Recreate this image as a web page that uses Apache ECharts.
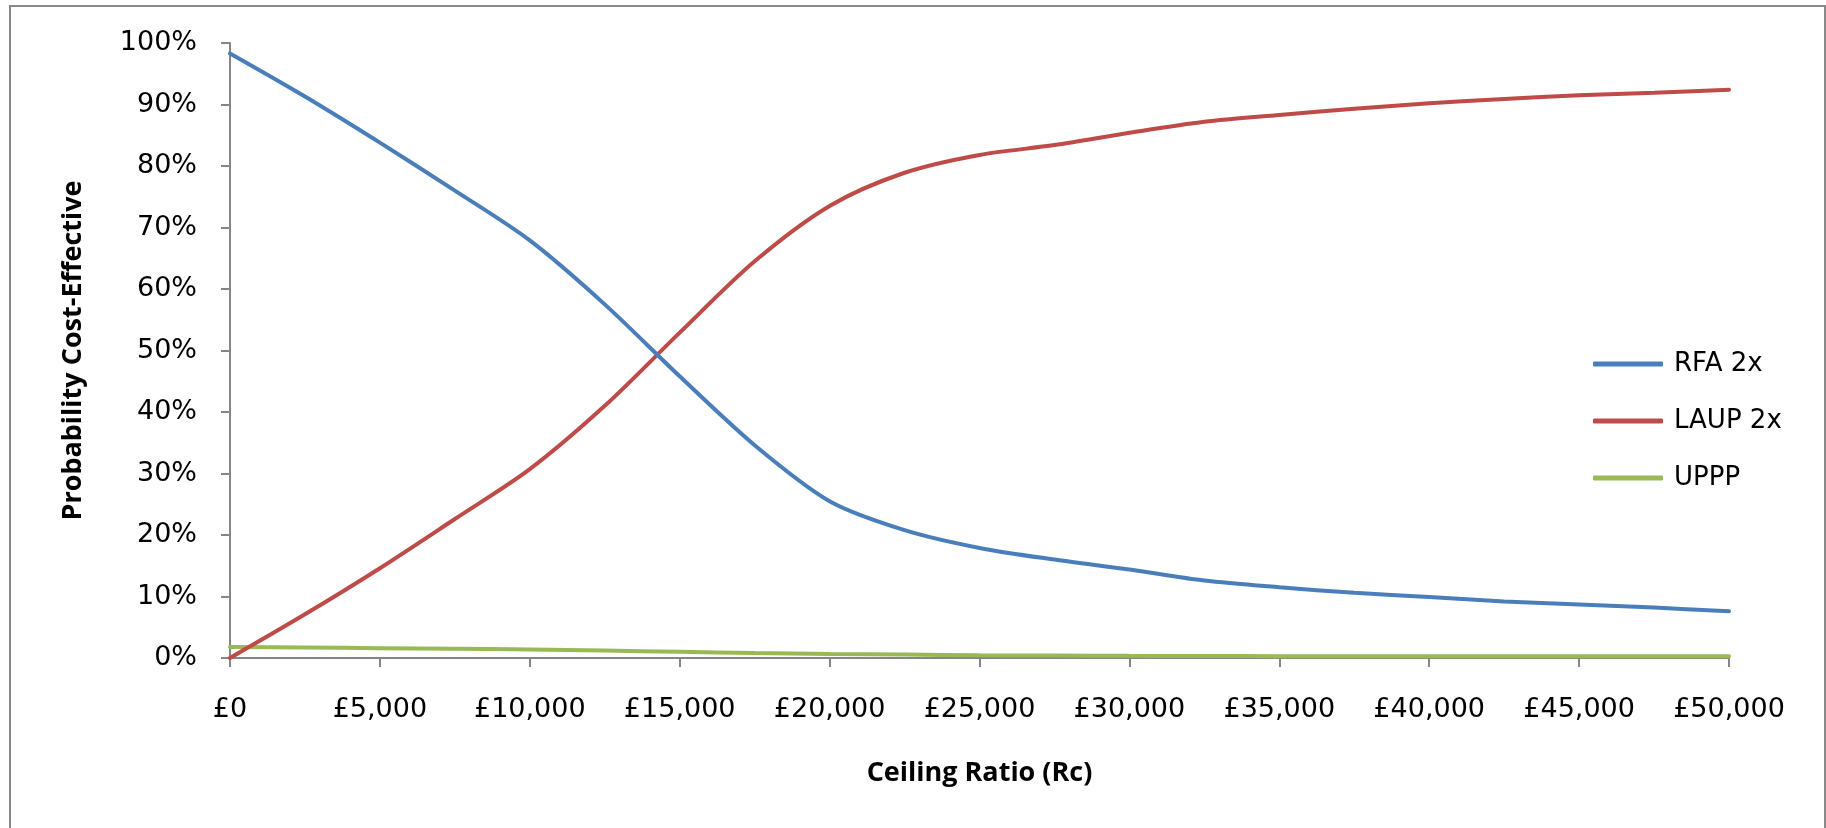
<!DOCTYPE html>
<html>
<head>
<meta charset="utf-8">
<script src="https://cdn.jsdelivr.net/npm/echarts@6/dist/echarts.min.js"></script>
<style>
  html, body { margin: 0; padding: 0; background: #ffffff; }
  #chart { width: 1826px; height: 828px; }
</style>
</head>
<body>
<div id="chart"></div>
<script>
// Ceiling ratio (£) at which each probability was evaluated
const ceilingRatios = [0, 2500, 5000, 7500, 10000, 12500, 15000, 17500, 20000, 22500, 25000,
  27500, 30000, 32500, 35000, 37500, 40000, 42500, 45000, 47500, 50000];

// Probability cost-effective (%)
const rfa2x = [98.3, 91.3, 83.8, 76.0, 67.9, 57.5, 45.8, 34.6, 25.5, 20.8, 17.9,
  16.0, 14.4, 12.6, 11.5, 10.6, 9.9, 9.2, 8.7, 8.2, 7.6];
const laup2x = [0.0, 7.1, 14.6, 22.6, 30.7, 41.0, 52.9, 64.5, 73.5, 78.9, 81.8,
  83.4, 85.4, 87.2, 88.3, 89.3, 90.2, 90.9, 91.5, 91.9, 92.4];
const uppp = [1.8, 1.7, 1.6, 1.5, 1.4, 1.2, 1.0, 0.8, 0.65, 0.55, 0.45,
  0.4, 0.35, 0.32, 0.3, 0.3, 0.3, 0.3, 0.3, 0.3, 0.3];

const seriesNames = ['RFA 2x', 'LAUP 2x', 'UPPP'];
const seriesColors = ['#4A7EBB', '#BE4B48', '#98B954'];

const pairs = vals => ceilingRatios.map((x, i) => [x, vals[i]]);
const poundFmt = v => '£' + v.toLocaleString('en-GB');

const tickFont = 'DejaVu Sans';
const titleFont = 'Open Sans';

const chart = echarts.init(document.getElementById('chart'), null, { renderer: 'canvas' });

chart.setOption({
  backgroundColor: '#ffffff',
  animation: false,
  graphic: [{
    type: 'rect',
    shape: { x: 10, y: 6, width: 1815, height: 840 },
    style: { fill: 'none', stroke: '#898989', lineWidth: 2 },
    silent: true
  }],
  grid: { left: 230, right: 97, top: 43, bottom: 170 },
  legend: {
    orient: 'vertical',
    left: 1588,
    top: 344,
    itemWidth: 70,
    itemHeight: 5,
    itemGap: 27,
    icon: 'roundRect',
    data: seriesNames,
    textStyle: {
      fontFamily: tickFont, fontSize: 26, color: '#000000',
      lineHeight: 30, padding: [0, 0, 0, 6]
    }
  },
  xAxis: {
    type: 'value',
    min: 0, max: 50000, interval: 5000,
    name: 'Ceiling Ratio (Rc)',
    nameLocation: 'middle',
    nameGap: 102,
    nameTextStyle: { fontFamily: titleFont, fontWeight: 'bold', fontSize: 27, color: '#000000' },
    axisLine: { show: true, lineStyle: { color: '#868686', width: 2 } },
    axisTick: { show: true, inside: false, length: 9, lineStyle: { color: '#868686', width: 2 } },
    splitLine: { show: false },
    axisLabel: {
      margin: 38, fontFamily: tickFont, fontSize: 27, color: '#000000',
      formatter: poundFmt
    }
  },
  yAxis: {
    type: 'value',
    min: 0, max: 100, interval: 10,
    name: 'Probability Cost-Effective',
    nameLocation: 'middle',
    nameGap: 143,
    nameTextStyle: { fontFamily: titleFont, fontWeight: 'bold', fontSize: 27, color: '#000000' },
    axisLine: { show: true, lineStyle: { color: '#868686', width: 2 } },
    axisTick: { show: true, inside: false, length: 9, lineStyle: { color: '#868686', width: 2 } },
    splitLine: { show: false },
    axisLabel: {
      margin: 33, fontFamily: tickFont, fontSize: 27, color: '#000000',
      formatter: '{value}%'
    }
  },
  series: [rfa2x, laup2x, uppp].map((vals, i) => ({
    name: seriesNames[i],
    type: 'line',
    data: pairs(vals),
    smooth: 0.3,
    showSymbol: false,
    symbol: 'none',
    color: seriesColors[i],
    lineStyle: { color: seriesColors[i], width: 4, cap: 'round' },
    z: 3 - i
  }))
});
</script>
</body>
</html>
